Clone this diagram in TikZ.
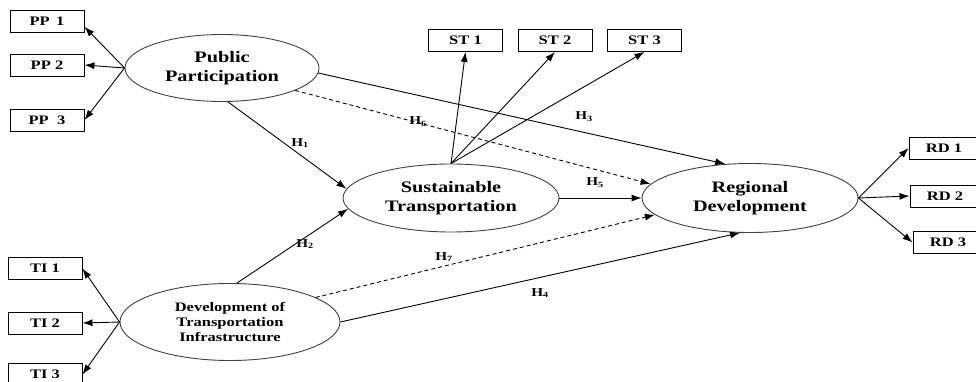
\documentclass[tikz,border=0pt]{standalone}
\usepackage{fontspec}
\setmainfont{Liberation Serif}[FakeStretch=1.27]
\usetikzlibrary{shapes.geometric,arrows.meta}
\tikzset{
  ell/.style={ellipse, draw=black!75, line width=0.9pt, inner sep=0pt, align=center, font=\bfseries\fontsize{16}{18.5}\selectfont},
  box/.style={rectangle, draw=black, line width=0.9pt, minimum width=74pt, minimum height=22pt, inner sep=0pt, font=\bfseries\fontsize{13}{15}\selectfont},
  arr/.style={line width=0.9pt, -{Latex[length=10pt,width=7pt]}},
  darr/.style={arr, dash pattern=on 4pt off 3pt},
  hl/.style={font=\bfseries\fontsize{12}{14}\selectfont, inner sep=0pt}
}
\begin{document}
\begin{tikzpicture}[x=1pt,y=-1pt]
\useasboundingbox (0,0) rectangle (976,382);
% ellipses
\node[ell, minimum width=194pt, minimum height=67pt] (PP) at (222,68) {Public\\Participation};
\node[ell, minimum width=216pt, minimum height=68pt] (ST) at (451,198) {Sustainable\\Transportation};
\node[ell, minimum width=216pt, minimum height=69pt] (RD) at (750,198) {Regional\\Development};
\node[ell, minimum width=220pt, minimum height=77pt, font=\bfseries\fontsize{13}{15.5}\selectfont] (DT) at (230,322) {Development of\\Transportation\\Infrastructure};
% boxes
\node[box] (PP1) at (47,21.5) {PP\,\ 1};
\node[box] (PP2) at (47,65) {PP 2};
\node[box] (PP3) at (47,120) {PP\ \ 3};
\node[box] (TI1) at (45,268.5) {TI 1};
\node[box] (TI2) at (45,323) {TI 2};
\node[box] (TI3) at (45,374.5) {TI 3};
\node[box] (ST1) at (465.5,40.5) {ST 1};
\node[box] (ST2) at (555,40.5) {ST 2};
\node[box] (ST3) at (644.5,40.5) {ST 3};
\node[box, minimum width=70pt] (RD1) at (944,148) {RD 1};
\node[box, minimum width=70pt] (RD2) at (945,196) {RD 2};
\node[box, minimum width=70pt] (RD3) at (948,242.5) {RD 3};
% indicator arrows
\draw[arr] (PP.west) -- (PP1.-8);
\draw[arr] (PP.west) -- (PP2.east);
\draw[arr] (PP.west) -- (PP3.east);
\draw[arr] (DT.west) -- (TI1.east);
\draw[arr] (DT.west) -- (TI2.east);
\draw[arr] (DT.west) -- (TI3.east);
\draw[arr] (ST.north) -- (ST1.south);
\draw[arr] (ST.north) -- (ST2.south);
\draw[arr] (ST.north) -- (ST3.south);
\draw[arr] (RD.east) -- (RD1.west);
\draw[arr] (RD.east) -- (RD2.west);
\draw[arr] (RD.east) -- (RD3.west);
% hypotheses
\draw[arr] (PP.-80) -- (ST.175);
\draw[arr] (DT.80) -- (ST.186);
\draw[arr] (PP.-3) -- (RD.126);
\draw[darr] (PP.-17) -- (RD.172);
\draw[arr] (ST.east) -- (RD.west);
\draw[darr] (DT.16) -- (RD.190);
\draw[arr] (DT.east) -- (RD.-106);
% labels
\node[hl] (h1) at (300,143) {H\textsubscript{1}};
\node[hl] (h2) at (305,244) {H\textsubscript{2}};
\node[hl] (h3) at (584,117) {H\textsubscript{3}};
\node[hl] (h4) at (540,293) {H\textsubscript{4}};
\node[hl] (h5) at (595,183) {H\textsubscript{5}};
\node[hl] (h6) at (418,122) {H\textsubscript{6}};
\node[hl] (h7) at (444,257) {H\textsubscript{7}};
\end{tikzpicture}
\end{document}
